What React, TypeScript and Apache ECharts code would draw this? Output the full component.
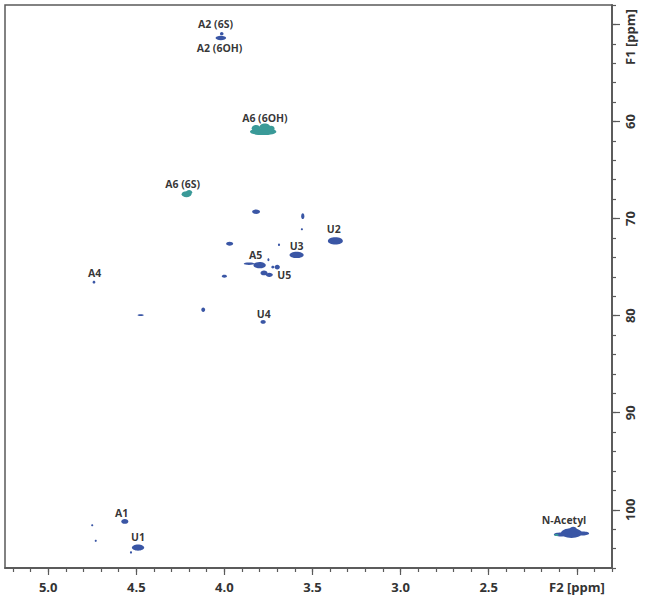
import React, { useEffect, useRef } from "react";
import * as echarts from "echarts";

// Peak list (F2 = 1H ppm, F1 = 13C ppm, widths in ppm, type 0 = blue, 1 = teal)
const peakF2 = [4.02, 4.015, 3.78, 3.82, 3.77, 3.735, 4.215, 4.2, 3.82, 3.555, 3.56, 3.37, 3.97, 3.69, 3.59, 3.8, 3.86, 3.75, 3.7, 3.725, 3.775, 3.745, 4.0, 4.12, 3.78, 4.74, 4.475, 4.565, 4.75, 4.73, 4.49, 4.53, 2.03, 2.09, 1.965, 2.115, 2.02];
const peakF1 = [51.4, 50.95, 61.05, 60.7, 60.55, 60.75, 67.5, 67.3, 69.3, 69.75, 71.1, 72.3, 72.6, 72.7, 73.75, 74.8, 74.65, 74.25, 75.0, 75.0, 75.6, 75.8, 75.95, 79.4, 80.65, 76.55, 79.95, 101.2, 101.6, 103.2, 103.9, 104.4, 102.4, 102.55, 102.45, 102.6, 102.0];
const peakWidthF2 = [0.06, 0.02, 0.15, 0.05, 0.06, 0.04, 0.055, 0.035, 0.045, 0.018, 0.012, 0.085, 0.04, 0.012, 0.08, 0.07, 0.06, 0.012, 0.03, 0.018, 0.04, 0.04, 0.03, 0.022, 0.03, 0.016, 0.035, 0.04, 0.012, 0.012, 0.07, 0.012, 0.12, 0.08, 0.07, 0.025, 0.04];
const peakWidthF1 = [0.45, 0.35, 0.7, 0.7, 0.7, 0.6, 0.6, 0.5, 0.45, 0.6, 0.22, 0.75, 0.4, 0.28, 0.65, 0.65, 0.25, 0.3, 0.5, 0.3, 0.5, 0.45, 0.3, 0.45, 0.4, 0.3, 0.18, 0.5, 0.22, 0.22, 0.65, 0.25, 1.0, 0.4, 0.4, 0.22, 0.5];
const peakType = [0, 0, 1, 1, 1, 1, 1, 1, 0, 0, 0, 0, 0, 0, 0, 0, 0, 0, 0, 0, 0, 0, 0, 0, 0, 0, 0, 0, 0, 0, 0, 0, 0, 0, 0, 1, 0];

// Assignment labels
const labelText = ["A2 (6S)", "A2 (6OH)", "A6 (6OH)", "A6 (6S)", "U2", "U3", "A5", "U5", "U4", "A4", "A1", "U1", "N-Acetyl"];
const labelF2 = [4.05, 4.027, 3.77, 4.237, 3.379, 3.59, 3.822, 3.66, 3.777, 4.737, 4.583, 4.49, 2.072];
const labelF1 = [50.0, 52.4, 59.6, 66.4, 71.1, 72.8, 73.75, 75.8, 79.8, 75.6, 100.3, 102.8, 101.05];

// Axes
const xMin = 1.8;
const xMax = 5.245;
const yMin = 48;
const yMax = 106;
const xTickLabels = [5.0, 4.5, 4.0, 3.5, 3.0, 2.5];
const yTickLabels = [60, 70, 80, 90, 100];
const xAxisTitle = "F2 [ppm]";
const yAxisTitle = "F1 [ppm]";

const BLUE = "#3a56a5";
const TEAL = "#3a9a98";
const FONT = "'Open Sans', 'Noto Sans', sans-serif";

export default function App() {
  const ref = useRef<HTMLDivElement>(null);
  useEffect(() => {
    if (!ref.current) return;
    const chart = echarts.init(ref.current, null, { renderer: "svg" });

    const xMinor: number[] = [];
    for (let k = 18; k <= 52; k++) xMinor.push(k / 10);
    const xMajor = [2.0, 2.5, 3.0, 3.5, 4.0, 4.5, 5.0];
    const yMinor: number[] = [];
    for (let v = 48; v <= 106; v += 2) yMinor.push(v);
    const yMajor = [50, 60, 70, 80, 90, 100];

    const peaks = peakF2.map((x, i) => [x, peakF1[i], peakWidthF2[i], peakWidthF1[i], peakType[i]]);
    const labels = labelText.map((t, i) => ({ value: [labelF2[i], labelF1[i]], name: t }));

    const axisLine = { show: true, lineStyle: { color: "#5a5a5a", width: 1.5 } };
    const baseX = {
      type: "value",
      min: xMin,
      max: xMax,
      inverse: true,
      position: "bottom",
      splitLine: { show: false },
      axisLine,
    };
    const baseY = {
      type: "value",
      min: yMin,
      max: yMax,
      inverse: true,
      position: "right",
      splitLine: { show: false },
      axisLine,
    };

    chart.setOption({
      animation: false,
      backgroundColor: "#ffffff",
      grid: {
        left: 5,
        top: 5,
        right: 39,
        bottom: 29,
        show: true,
        borderColor: "#5a5a5a",
        borderWidth: 1.5,
      },
      xAxis: [
        {
          ...baseX,
          axisTick: { show: true, length: 4, customValues: xMinor, lineStyle: { color: "#5a5a5a", width: 1.2 } },
          axisLabel: { show: false },
        },
        {
          ...baseX,
          axisTick: { show: true, length: 7, customValues: xMajor, lineStyle: { color: "#5a5a5a", width: 1.2 } },
          axisLabel: {
            show: true,
            customValues: xTickLabels,
            margin: 12,
            color: "#333",
            fontFamily: FONT,
            fontWeight: "bold",
            fontSize: 13,
            formatter: (v: number) => v.toFixed(1),
          },
        },
      ],
      yAxis: [
        {
          ...baseY,
          axisTick: { show: true, length: 4, customValues: yMinor, lineStyle: { color: "#5a5a5a", width: 1.2 } },
          axisLabel: { show: false },
        },
        {
          ...baseY,
          axisTick: { show: true, length: 8, customValues: yMajor, lineStyle: { color: "#5a5a5a", width: 1.2 } },
          axisLabel: {
            show: true,
            customValues: yTickLabels,
            rotate: 90,
            margin: 11,
            color: "#333",
            fontFamily: FONT,
            fontWeight: "bold",
            fontSize: 13,
          },
        },
      ],
      graphic: [
        {
          type: "text",
          x: 577,
          y: 587,
          style: {
            text: xAxisTitle,
            fill: "#333",
            font: `bold 13px ${FONT}`,
            textAlign: "center",
            textVerticalAlign: "middle",
          },
        },
        {
          type: "text",
          x: 630,
          y: 37,
          rotation: Math.PI / 2,
          style: {
            text: yAxisTitle,
            fill: "#333",
            font: `bold 13px ${FONT}`,
            textAlign: "center",
            textVerticalAlign: "middle",
          },
        },
      ],
      series: [
        {
          type: "custom",
          xAxisIndex: 0,
          yAxisIndex: 0,
          clip: true,
          data: peaks,
          renderItem: (params: any, api: any) => {
            const c = api.coord([api.value(0), api.value(1)]);
            const s = api.size([api.value(2), api.value(3)]);
            const color = api.value(4) === 1 ? TEAL : BLUE;
            return {
              type: "ellipse",
              shape: { cx: c[0], cy: c[1], rx: Math.abs(s[0]) / 2, ry: Math.abs(s[1]) / 2 },
              style: { fill: color },
            };
          },
        },
        {
          type: "scatter",
          xAxisIndex: 0,
          yAxisIndex: 0,
          symbolSize: 0,
          data: labels,
          label: {
            show: true,
            position: "inside",
            formatter: (p: any) => p.name,
            color: "#000",
            fontFamily: FONT,
            fontWeight: "bold",
            fontSize: 10.5,
          },
        },
      ],
    });
    return () => chart.dispose();
  }, []);

  return (
    <div
      ref={ref}
      style={{ position: "fixed", left: 0, top: 0, width: 651, height: 597, background: "#fff" }}
    />
  );
}
